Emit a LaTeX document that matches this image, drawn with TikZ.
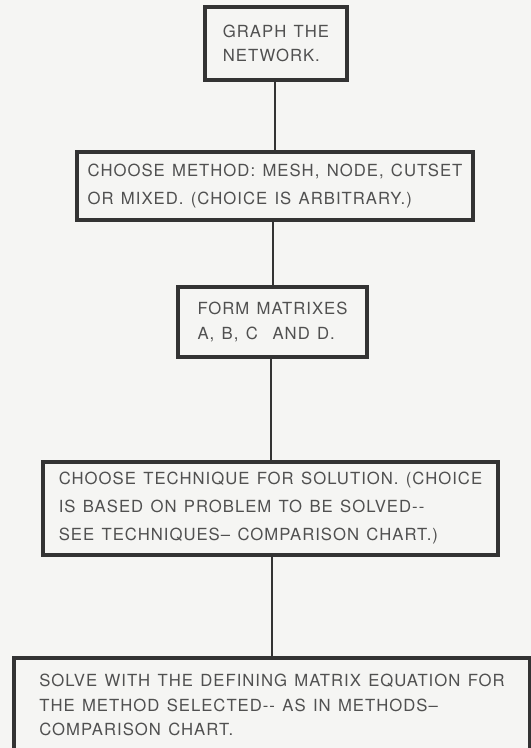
\documentclass[tikz,border=0pt]{standalone}
\usepackage{fontspec}
\usepackage{tikz}
\usetikzlibrary{positioning,calc}
\newfontfamily\leroy[LetterSpace=6,WordSpace=1.3]{TeX Gyre Heros}
\definecolor{fcpaper}{HTML}{F5F5F3}
\definecolor{fcink}{HTML}{333333}
\definecolor{fctext}{HTML}{505050}
\tikzset{
  stepbox/.style = {draw=fcink, fill=fcpaper, line width=3.2bp, align=left,
                    inner xsep=4bp, inner ysep=2bp, text=fctext,
                    font=\leroy\fontsize{16.7bp}{24.5bp}\selectfont},
  widebox/.style = {stepbox, font=\leroy\fontsize{16.7bp}{28bp}\selectfont},
  link/.style    = {draw=fcink, line width=2bp},
}
\begin{document}
\begin{tikzpicture}[x=1bp, y=-1bp]
  \useasboundingbox[fill=fcpaper] (0,0) rectangle (531,748);

  % ---------- boxes (top to bottom) ---------------------------------------
  \node[stepbox, minimum width=142bp, minimum height=73bp] (b1) at (276, 43.5)
    {GRAPH THE\\ NETWORK.};
  \node[widebox, minimum width=396bp, minimum height=68bp] (b2) at (275, 186)
    {CHOOSE METHOD: MESH, NODE, CUTSET\\ OR MIXED. (CHOICE IS ARBITRARY.)};
  \node[stepbox, minimum width=189bp, minimum height=70bp] (b3) at (272.5, 322)
    {FORM MATRIXES\\ A, B, C \ AND D.};
  \node[widebox, minimum width=455bp, minimum height=93bp] (b4) at (270.5, 508.5)
    {CHOOSE TECHNIQUE FOR SOLUTION. (CHOICE\\
     IS BASED ON PROBLEM TO BE SOLVED-{}-\\
     SEE TECHNIQUES\textendash{} COMPARISON CHART.)};
  \node[stepbox, minimum width=516bp, minimum height=94bp] (b5) at (272, 705)
    {SOLVE WITH THE DEFINING MATRIX EQUATION FOR\\
     THE METHOD SELECTED-{}- AS IN METHODS\textendash\\
     COMPARISON CHART.};

  % ---------- connectors --------------------------------------------------
  \draw[link] (b2.north |- b1.south) -- (b2.north);
  \draw[link] (b3.north |- b2.south) -- (b3.north);
  \draw[link] (b4.north |- b3.south) -- (b4.north);
  \draw[link] (b5.north |- b4.south) -- (b5.north);

\end{tikzpicture}
\end{document}
